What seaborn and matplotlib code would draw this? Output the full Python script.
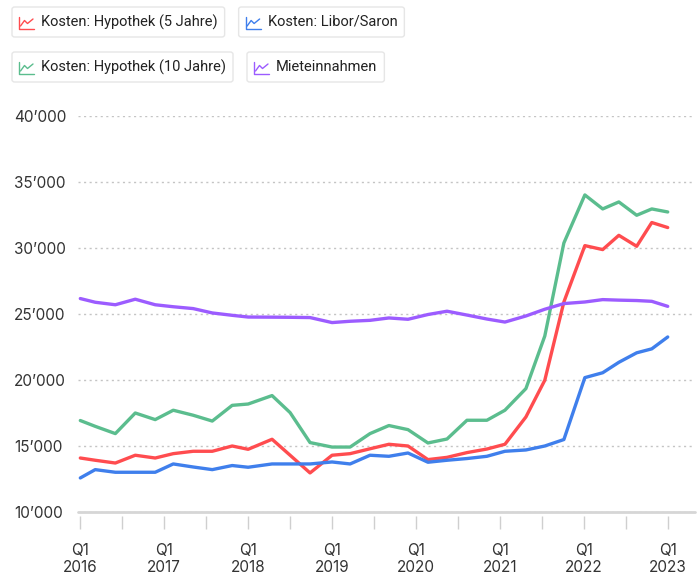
import pandas as pd
import matplotlib.pyplot as plt
import seaborn as sns
from matplotlib.lines import Line2D
from matplotlib.patches import FancyBboxPatch

# Lage der Messpunkte in Quartalen ab Q1 2016
quartal = [0, 0.71, 1.67, 2.62, 3.57, 4.43, 5.38, 6.29, 7.24, 8.0, 9.14, 10.0,
           10.95, 12.0, 12.86, 13.81, 14.71, 15.62, 16.57, 17.48, 18.43, 19.38,
           20.24, 21.24, 22.14, 23.05, 24.05, 24.9, 25.67, 26.52, 27.24, 28.0]

hypothek_5 = [14090, 13920, 13710, 14300, 14090, 14420, 14600, 14600, 15000, 14750,
              15510, 14300, 12960, 14300, 14420, 14790, 15130, 15000, 13970, 14140,
              14500, 14770, 15130, 17200, 19980, 25910, 30180, 29880, 30960, 30130,
              31930, 31550]
libor_saron = [12580, 13210, 13010, 13010, 13010, 13640, 13410, 13210, 13520, 13390,
               13640, 13640, 13640, 13790, 13640, 14300, 14220, 14470, 13770, 13920,
               14050, 14220, 14600, 14700, 15000, 15490, 20180, 20550, 21340, 22060,
               22360, 23260]
hypothek_10 = [16930, 16490, 15940, 17500, 17000, 17710, 17330, 16890, 18080, 18180,
               18820, 17530, 15260, 14920, 14920, 15940, 16550, 16240, 15230, 15530,
               16950, 16950, 17710, 19350, 23330, 30380, 34020, 32960, 33490, 32480,
               32960, 32730]
mieteinnahmen = [26170, 25890, 25700, 26120, 25700, 25550, 25410, 25080, 24900, 24770,
                 24760, 24750, 24730, 24350, 24450, 24520, 24700, 24600, 24960, 25210,
                 24920, 24620, 24390, 24850, 25360, 25790, 25910, 26090, 26050, 26020,
                 25960, 25580]

reihen = ['Kosten: Hypothek (5 Jahre)', 'Kosten: Libor/Saron',
          'Kosten: Hypothek (10 Jahre)', 'Mieteinnahmen']
farben = ['#ff4c4f', '#3f7fec', '#5bbd8e', '#9c5cff']

jahre = [2016, 2017, 2018, 2019, 2020, 2021, 2022, 2023]
y_ticks = [10000, 15000, 20000, 25000, 30000, 35000, 40000]

df = pd.DataFrame({'quartal': quartal,
                   reihen[0]: hypothek_5,
                   reihen[1]: libor_saron,
                   reihen[2]: hypothek_10,
                   reihen[3]: mieteinnahmen})
df = df.melt(id_vars='quartal', var_name='reihe', value_name='kosten')

sns.set_style('white')
plt.rcParams['font.family'] = ['Inter', 'DejaVu Sans']

W, H = 699, 575
fig = plt.figure(figsize=(W / 100, H / 100), dpi=100)
ax = fig.add_axes([78 / W, 1 - 512 / H, (695 - 78) / W, (512 - 116) / H])

sns.lineplot(data=df, x='quartal', y='kosten', hue='reihe', hue_order=reihen,
             palette=farben, linewidth=2.4, legend=False, ax=ax, zorder=3)

ax.set_ylim(10000, 40000)
ax.set_xlim(-0.11, 29.3)
ax.set_yticks(y_ticks)
ax.set_yticklabels([f'{v:,}'.replace(',', '\u2019') for v in y_ticks])
ax.yaxis.grid(True, linestyle=(0, (1.5, 2.5)), color='#c4c4c4', linewidth=1)
ax.axhline(10000, color='#d6d6d6', linewidth=2, zorder=2, clip_on=False)

xt = list(range(0, 29, 2))
ax.set_xticks(xt)
ax.set_xticklabels([f'Q1\n{jahre[t // 4]}' if t % 4 == 0 else '' for t in xt])

for s in ax.spines.values():
    s.set_visible(False)
ax.spines['bottom'].set_position(('outward', 3))
ax.tick_params(axis='x', bottom=True, length=9, width=1, color='#cfcfcf', pad=10,
               labelsize=11, labelcolor='#333333')
ax.tick_params(axis='y', left=False, length=0, pad=46, labelsize=11,
               labelcolor='#333333')
for lab in ax.get_yticklabels():
    lab.set_horizontalalignment('left')
ax.set_xlabel('')
ax.set_ylabel('')


# Legende als einzelne Kästchen mit kleinem Diagramm-Symbol
def fx(x):
    return x / W


def fy(y):
    return 1 - y / H


zeilen = [(7, [0, 1]), (52, [2, 3])]
fig.canvas.draw()
renderer = fig.canvas.get_renderer()
for by, idx in zeilen:
    bx = 12
    for i in idx:
        farbe = farben[i]
        t = fig.text(fx(bx + 29), fy(by + 15), reihen[i], ha='left', va='center',
                     fontsize=10.5, color='#222222', family=['Roboto', 'DejaVu Sans'])
        ext = t.get_window_extent(renderer)
        breite = ext.x1 - bx + 7
        box = FancyBboxPatch((fx(bx), fy(by + 30)), fx(breite), 30 / H,
                             boxstyle='round,pad=0,rounding_size=0.004',
                             transform=fig.transFigure, facecolor='white',
                             edgecolor='#e6e6e6', linewidth=1, zorder=0)
        fig.add_artist(box)
        fig.add_artist(Line2D([fx(bx + 7), fx(bx + 7), fx(bx + 22)],
                              [fy(by + 10), fy(by + 22), fy(by + 22)],
                              transform=fig.transFigure, color=farbe, linewidth=1))
        fig.add_artist(Line2D([fx(bx + 8.5), fx(bx + 12.5), fx(bx + 15.5), fx(bx + 21)],
                              [fy(by + 19), fy(by + 13.5), fy(by + 16.5), fy(by + 12)],
                              transform=fig.transFigure, color=farbe, linewidth=1))
        bx = bx + breite + 14

fig.savefig('out.png', dpi=100)
